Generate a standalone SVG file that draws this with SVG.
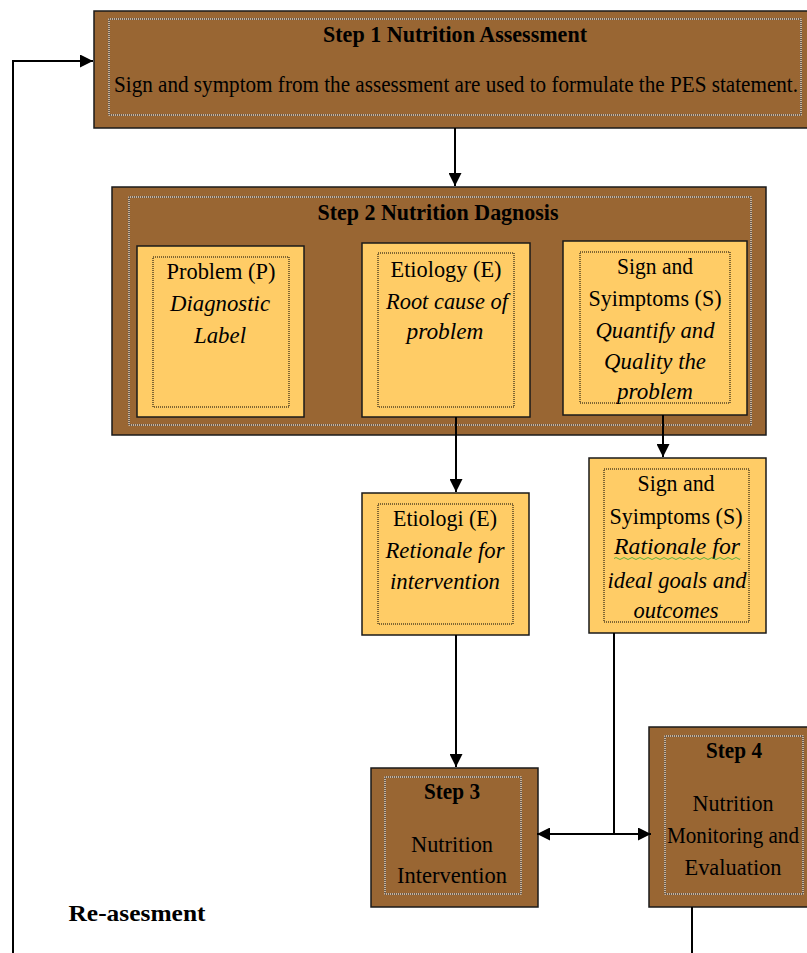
<svg xmlns="http://www.w3.org/2000/svg" width="807" height="953" viewBox="0 0 807 953">
<style>
.step{fill:#996633;stroke:#1a1a1a;stroke-width:1.5}
.sub{fill:#FFCC66;stroke:#1a1a1a;stroke-width:1.5}
.dw{fill:none;stroke:#ffffff;stroke-width:1}
.db{fill:none;stroke:#000;stroke-width:1;stroke-dasharray:1 1}
text{font-family:"Liberation Serif","Times New Roman",serif;fill:#000;text-anchor:middle;font-size:24px}
.b{font-weight:bold;font-size:23px}
.i{font-style:italic}
.s1{font-size:23px}
.conn{fill:none;stroke:#000;stroke-width:2}
</style>
<defs>
<marker id="ah" viewBox="0 0 10 10" refX="10" refY="5" markerWidth="6.5" markerHeight="6.5" orient="auto-start-reverse">
<path d="M0,0 L10,5 L0,10 z" fill="#000"/>
</marker>
</defs>
<rect width="807" height="953" fill="#ffffff"/>

<g id="step1">
<rect class="step" x="94" y="11" width="720" height="117"/>
<rect class="dw" x="109" y="19" width="692" height="96"/>
<rect class="db" x="109" y="19" width="692" height="96"/>
<text class="b" x="455" y="42" textLength="264" lengthAdjust="spacingAndGlyphs">Step 1 Nutrition Assessment</text>
<text class="s1" x="456" y="92" textLength="684" lengthAdjust="spacingAndGlyphs">Sign and symptom from the assessment are used to formulate the PES statement.</text>
</g>

<g id="step2">
<rect class="step" x="112" y="187" width="654" height="248"/>
<rect class="dw" x="129" y="197" width="622" height="228"/>
<rect class="db" x="129" y="197" width="622" height="228"/>
<text class="b" x="438" y="220" textLength="241" lengthAdjust="spacingAndGlyphs">Step 2 Nutrition Dagnosis</text>
</g>

<g id="problem">
<rect class="sub" x="137" y="246" width="167" height="171"/>
<rect class="db" x="153" y="257" width="136" height="150"/>
<text x="221" y="279" textLength="109" lengthAdjust="spacingAndGlyphs">Problem (P)</text>
<text class="i" x="220" y="311" textLength="100" lengthAdjust="spacingAndGlyphs">Diagnostic</text>
<text class="i" x="220" y="343" textLength="52" lengthAdjust="spacingAndGlyphs">Label</text>
</g>

<g id="etiology">
<rect class="sub" x="362" y="243" width="168" height="174"/>
<rect class="db" x="378" y="253" width="136" height="154"/>
<text x="446" y="277" textLength="111" lengthAdjust="spacingAndGlyphs">Etiology (E)</text>
<text class="i" x="447" y="309" textLength="122" lengthAdjust="spacingAndGlyphs">Root cause of</text>
<text class="i" x="445" y="339" textLength="77" lengthAdjust="spacingAndGlyphs">problem</text>
</g>

<g id="signs">
<rect class="sub" x="563" y="241" width="184" height="174"/>
<rect class="db" x="580" y="252" width="150" height="151"/>
<text x="655" y="274" textLength="76" lengthAdjust="spacingAndGlyphs">Sign and</text>
<text x="655" y="306" textLength="133" lengthAdjust="spacingAndGlyphs">Syimptoms (S)</text>
<text class="i" x="655" y="338" textLength="119" lengthAdjust="spacingAndGlyphs">Quantify and</text>
<text class="i" x="655" y="369" textLength="102" lengthAdjust="spacingAndGlyphs">Quality the</text>
<text class="i" x="655" y="399" textLength="76" lengthAdjust="spacingAndGlyphs">problem</text>
</g>

<g id="etiologi">
<rect class="sub" x="362" y="493" width="167" height="142"/>
<rect class="db" x="378" y="504" width="135" height="120"/>
<text x="445" y="526" textLength="104" lengthAdjust="spacingAndGlyphs">Etiologi (E)</text>
<text class="i" x="445" y="558" textLength="119" lengthAdjust="spacingAndGlyphs">Retionale for</text>
<text class="i" x="445" y="589" textLength="110" lengthAdjust="spacingAndGlyphs">intervention</text>
</g>

<g id="signs2">
<rect class="sub" x="589" y="458" width="177" height="175"/>
<rect class="db" x="604" y="469" width="145" height="153"/>
<text x="676" y="491" textLength="77" lengthAdjust="spacingAndGlyphs">Sign and</text>
<text x="676" y="524" textLength="133" lengthAdjust="spacingAndGlyphs">Syimptoms (S)</text>
<text class="i" x="677" y="554" textLength="126" lengthAdjust="spacingAndGlyphs">Rationale  for</text>
<path d="M614,558.5 q2,-2 4,0 t4,0 t4,0 t4,0 t4,0 t4,0 t4,0 t4,0 t4,0 t4,0 t4,0 t4,0 t4,0 t4,0 t4,0 t4,0 t4,0 t4,0 t4,0 t4,0 t4,0 t4,0 t4,0 t4,0 t4,0 t4,0 t4,0 t4,0 t4,0 t4,0 t4,0 t2,0" fill="none" stroke="#33aa33" stroke-width="0.8"/>
<text class="i" x="677" y="588" textLength="139" lengthAdjust="spacingAndGlyphs">ideal goals and</text>
<text class="i" x="676" y="618" textLength="85" lengthAdjust="spacingAndGlyphs">outcomes</text>
</g>

<g id="step3">
<rect class="step" x="371" y="768" width="167" height="139"/>
<rect class="dw" x="385" y="777" width="136" height="117"/>
<rect class="db" x="385" y="777" width="136" height="117"/>
<text class="b" x="452" y="799" textLength="56" lengthAdjust="spacingAndGlyphs">Step 3</text>
<text x="452" y="852" textLength="82" lengthAdjust="spacingAndGlyphs">Nutrition</text>
<text x="452" y="883" textLength="110" lengthAdjust="spacingAndGlyphs">Intervention</text>
</g>

<g id="step4">
<rect class="step" x="649" y="727" width="170" height="180"/>
<rect class="dw" x="665" y="736" width="138" height="158"/>
<rect class="db" x="665" y="736" width="138" height="158"/>
<text class="b" x="734" y="758" textLength="56" lengthAdjust="spacingAndGlyphs">Step 4</text>
<text x="733" y="811" textLength="81" lengthAdjust="spacingAndGlyphs">Nutrition</text>
<text x="733" y="843" textLength="132" lengthAdjust="spacingAndGlyphs">Monitoring and</text>
<text x="733" y="875" textLength="97" lengthAdjust="spacingAndGlyphs">Evaluation</text>
</g>

<g id="reassess">
<text class="b" x="137" y="921" textLength="137" lengthAdjust="spacingAndGlyphs">Re-asesment</text>
</g>

<g id="connectors">
<path class="conn" d="M455,128 V186" marker-end="url(#ah)"/>
<path class="conn" d="M456,417 V492" marker-end="url(#ah)"/>
<path class="conn" d="M663,415 V457" marker-end="url(#ah)"/>
<path class="conn" d="M456,635 V767" marker-end="url(#ah)"/>
<path class="conn" d="M614,633 V834"/>
<path class="conn" d="M614,834 H537" marker-end="url(#ah)"/>
<path class="conn" d="M614,834 H651" marker-end="url(#ah)"/>
<path class="conn" d="M692,907 V953"/>
<path class="conn" d="M13,953 V61 H93" marker-end="url(#ah)"/>
</g>
</svg>
